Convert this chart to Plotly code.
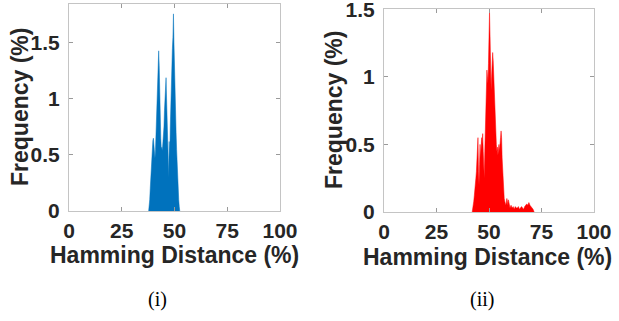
import plotly.graph_objects as go

# ---- data: Hamming distance histograms (bin centre %, frequency %) ----
hd_i = [37.75, 38.0, 38.25, 38.5, 38.75, 39.0, 39.25, 39.5, 39.75, 40.0,
        40.25, 40.5, 40.75, 41.0, 41.25, 41.5, 41.75, 42.0, 42.25, 42.5,
        42.75, 43.0, 43.25, 43.5, 43.75, 44.0, 44.25, 44.5, 44.75, 45.0,
        45.25, 45.5, 45.75, 46.0, 46.25, 46.5, 46.75, 47.0, 47.25, 47.5,
        47.75, 48.0, 48.25, 48.5, 48.75, 49.0, 49.25, 49.5, 49.75, 50.0,
        50.25, 50.5, 50.75, 51.0, 51.25, 51.5, 51.75, 52.0, 52.25, 52.5]
freq_i = [0.0, 0.03, 0.10, 0.20, 0.30, 0.40, 0.50, 0.58, 0.63, 0.65,
          0.58, 0.55, 0.47, 0.55, 0.70, 0.90, 1.10, 1.25, 1.35, 1.43,
          1.30, 1.00, 0.80, 0.65, 0.55, 0.57, 0.54, 0.62, 0.60, 0.75,
          0.90, 1.05, 1.15, 1.19, 1.00, 0.75, 0.50, 0.45, 0.30, 0.62,
          0.48, 0.75, 1.00, 1.25, 1.35, 1.45, 1.55, 1.76, 1.50, 1.20,
          1.05, 0.90, 0.70, 0.55, 0.40, 0.30, 0.20, 0.10, 0.04, 0.0]

hd_ii = [42.0, 42.25, 42.5, 42.75, 43.0, 43.25, 43.5, 43.75, 44.0, 44.25,
         44.5, 44.75, 45.0, 45.25, 45.5, 45.75, 46.0, 46.25, 46.5, 46.75,
         47.0, 47.25, 47.5, 47.75, 48.0, 48.25, 48.5, 48.75, 49.0, 49.25,
         49.5, 49.75, 50.0, 50.25, 50.5, 50.75, 51.0, 51.25, 51.5, 51.75,
         52.0, 52.25, 52.5, 52.75, 53.0, 53.25, 53.5, 53.75, 54.0, 54.25,
         54.5, 54.75, 55.0, 55.25, 55.5, 55.75, 56.0, 56.25, 56.5, 56.75,
         57.0, 57.25, 57.5, 57.75, 58.0, 58.25, 58.5, 58.75, 59.0, 59.25,
         59.5, 59.75, 60.0, 60.5, 61.0, 61.5, 62.0, 62.5, 63.0, 63.5,
         64.0, 64.5, 65.0, 65.5, 66.0, 66.5, 67.0, 67.5, 68.0, 68.5,
         69.0, 69.5, 70.0, 70.5, 71.0, 71.5]
freq_ii = [0.0, 0.02, 0.05, 0.08, 0.12, 0.15, 0.20, 0.25, 0.30, 0.38,
           0.50, 0.55, 0.30, 0.20, 0.35, 0.50, 0.40, 0.45, 0.55, 0.50,
           0.58, 0.45, 0.30, 0.25, 0.45, 0.60, 0.80, 1.00, 1.05, 1.00,
           0.95, 1.10, 1.25, 1.48, 1.30, 1.00, 0.90, 1.00, 1.10, 1.18,
           1.12, 1.00, 0.85, 0.75, 0.65, 0.55, 0.50, 0.45, 0.48, 0.42,
           0.45, 0.50, 0.45, 0.48, 0.55, 0.60, 0.55, 0.40, 0.30, 0.20,
           0.14, 0.10, 0.08, 0.06, 0.05, 0.07, 0.10, 0.08, 0.05, 0.09,
           0.06, 0.04, 0.03, 0.05, 0.03, 0.04, 0.02, 0.04, 0.03, 0.03,
           0.04, 0.02, 0.03, 0.04, 0.03, 0.02, 0.04, 0.05, 0.06, 0.05,
           0.07, 0.05, 0.04, 0.03, 0.02, 0.0]

x_ticks = [0, 25, 50, 75, 100]
x_tick_labels = ["0", "25", "50", "75", "100"]
y_ticks = [0, 0.5, 1, 1.5]
y_tick_labels = ["0", "0.5", "1", "1.5"]

blue = "#0072BD"
red = "#FF0000"
txt = "#262626"
box = "#c4c4c4"

fig = go.Figure()
fig.add_trace(go.Scatter(x=hd_i, y=freq_i, mode="lines", fill="tozeroy",
                         line=dict(color=blue, width=0.5), fillcolor=blue,
                         xaxis="x", yaxis="y", showlegend=False, hoverinfo="skip"))
fig.add_trace(go.Scatter(x=hd_ii, y=freq_ii, mode="lines", fill="tozeroy",
                         line=dict(color=red, width=0.5), fillcolor=red,
                         xaxis="x2", yaxis="y2", showlegend=False, hoverinfo="skip"))

tickfont = dict(family="Liberation Sans, Arial, sans-serif", size=21, color=txt, weight="bold")
ax_common = dict(showline=True, linecolor=box, linewidth=1, mirror="ticks",
                 ticks="inside", ticklen=4, tickcolor="#9a9a9a", showgrid=False,
                 zeroline=False, tickfont=tickfont, ticklabeloverflow="allow",
                 automargin=False)

fig.update_layout(
    width=619, height=321,
    margin=dict(l=0, r=0, t=0, b=0),
    paper_bgcolor="white", plot_bgcolor="white",
    xaxis=dict(domain=[69/619, 280/619], anchor="y", range=[0, 100],
               tickvals=x_ticks, ticktext=x_tick_labels, ticklabelstandoff=1, **ax_common),
    yaxis=dict(domain=[110/321, 317/321], anchor="x", range=[0, 1.848],
               tickvals=y_ticks, ticktext=y_tick_labels, ticklabelstandoff=4, **ax_common),
    xaxis2=dict(domain=[384/619, 594/619], anchor="y2", range=[0, 100],
                tickvals=x_ticks, ticktext=x_tick_labels, ticklabelstandoff=1, **ax_common),
    yaxis2=dict(domain=[109/321, 312/321], anchor="x2", range=[0, 1.502],
                tickvals=y_ticks, ticktext=y_tick_labels, ticklabelstandoff=4, **ax_common),
)

title_font = dict(family="Liberation Sans, Arial, sans-serif", size=23, color=txt, weight="bold")
cap_font = dict(family="Liberation Serif, Times New Roman, serif", size=20, color="black")
annos = [
    dict(text="Hamming Distance (%)", x=174.5/619, y=(321-255)/321, font=title_font),
    dict(text="Hamming Distance (%)", x=487.5/619, y=(321-257)/321, font=title_font),
    dict(text="Frequency (%)", x=19.5/619, y=(321-107.5)/321, textangle=-90, font=title_font),
    dict(text="Frequency (%)", x=333.5/619, y=(321-110.5)/321, textangle=-90, font=title_font),
    dict(text="(i)", x=157/619, y=(321-299)/321, font=cap_font),
    dict(text="(ii)", x=482/619, y=(321-299)/321, font=cap_font),
]
for a in annos:
    fig.add_annotation(xref="paper", yref="paper", xanchor="center", yanchor="middle",
                       showarrow=False, **a)

fig.write_html("out.html", config={"displayModeBar": False, "staticPlot": True},
               post_script="document.body.style.margin='0';document.body.style.overflow='hidden';")
